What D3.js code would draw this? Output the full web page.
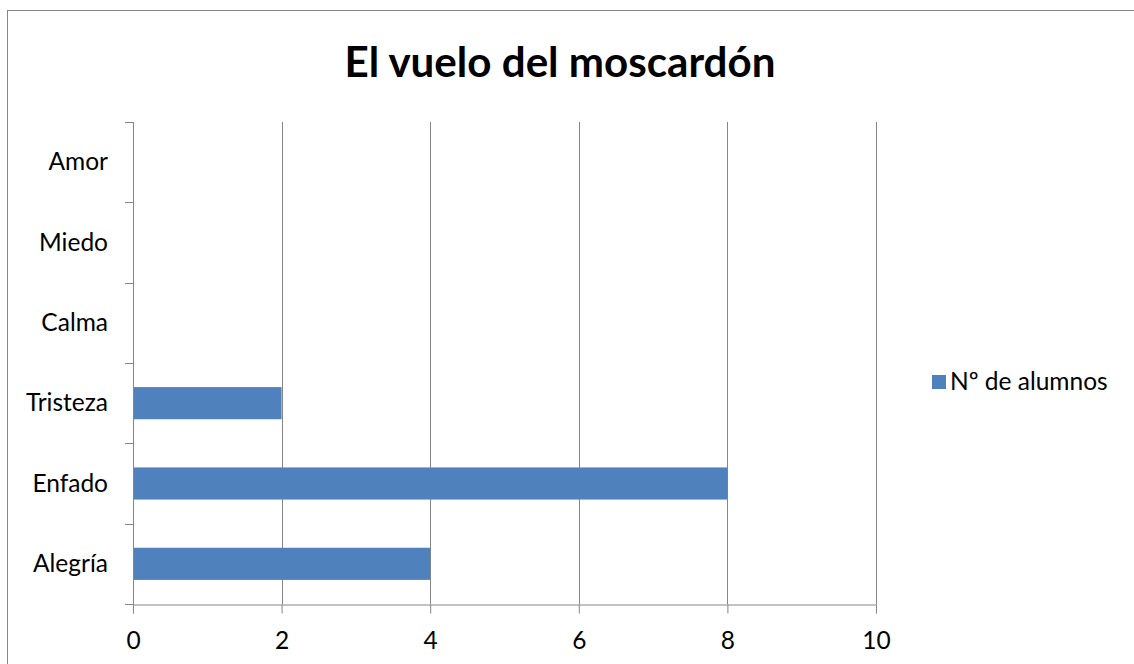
<!DOCTYPE html>
<html>
<head>
<meta charset="utf-8">
<script src="https://cdn.jsdelivr.net/npm/d3@7"></script>
<style>
  body { margin: 0; background: #fff; }
  text { font-family: Lato, "Noto Sans", sans-serif; fill: #000; }
</style>
</head>
<body>
<div id="chart"></div>
<script>
const categories = ["Alegría", "Enfado", "Tristeza", "Calma", "Miedo", "Amor"];
const values = [4, 8, 2, 0, 0, 0];
const xTicks = [0, 2, 4, 6, 8, 10];
const seriesName = "Nº de alumnos";
const title = "El vuelo del moscardón";

const W = 1134, H = 664;
const plot = { left: 133, right: 876, top: 122, bottom: 604 };
const gridColor = "#868686";
const barColor = "#4F81BD";
const labelSize = "24.5px";

const svg = d3.select("#chart").append("svg")
  .attr("width", W)
  .attr("height", H);

// chart frame
svg.append("rect")
  .attr("x", 7.5).attr("y", 10.5)
  .attr("width", W + 20).attr("height", H + 20)
  .attr("fill", "none")
  .attr("stroke", gridColor);

const x = d3.scaleLinear()
  .domain([0, 10])
  .range([plot.left, plot.right]);

const y = d3.scaleBand()
  .domain(categories)
  .range([plot.bottom, plot.top])
  .paddingInner(0.6)
  .paddingOuter(0.3);

// vertical grid
svg.append("g")
  .selectAll("line")
  .data(xTicks.slice(1))
  .join("line")
  .attr("x1", d => Math.round(x(d)) + 0.5)
  .attr("x2", d => Math.round(x(d)) + 0.5)
  .attr("y1", plot.top)
  .attr("y2", plot.bottom)
  .attr("stroke", gridColor);

// bars
const data = categories.map((c, i) => ({ cat: c, val: values[i] }));
svg.append("g")
  .selectAll("rect")
  .data(data.filter(d => d.val > 0))
  .join("rect")
  .attr("x", x(0))
  .attr("y", d => y(d.cat))
  .attr("width", d => x(d.val) - x(0))
  .attr("height", y.bandwidth())
  .attr("fill", barColor);

// x axis
const xAxis = svg.append("g")
  .attr("transform", `translate(0,${plot.bottom + 0.5})`)
  .call(d3.axisBottom(x).tickValues(xTicks).tickSize(9).tickPadding(18));
xAxis.select(".domain").attr("stroke", gridColor);
xAxis.selectAll(".tick line").attr("stroke", gridColor);
xAxis.selectAll(".tick text").style("font-size", labelSize);

// y axis (ticks at category boundaries)
const bounds = d3.range(categories.length + 1).map(i => plot.bottom - i * (plot.bottom - plot.top) / categories.length);
const yg = svg.append("g");
yg.append("line")
  .attr("x1", plot.left + 0.5).attr("x2", plot.left + 0.5)
  .attr("y1", plot.top).attr("y2", plot.bottom + 9)
  .attr("stroke", gridColor);
yg.selectAll("line.tk")
  .data(bounds)
  .join("line")
  .attr("class", "tk")
  .attr("x1", plot.left - 8).attr("x2", plot.left)
  .attr("y1", d => Math.round(d) + 0.5)
  .attr("y2", d => Math.round(d) + 0.5)
  .attr("stroke", gridColor);
yg.selectAll("text")
  .data(categories)
  .join("text")
  .attr("x", 108)
  .attr("y", d => y(d) + y.bandwidth() / 2)
  .attr("dy", "0.34em")
  .attr("text-anchor", "end")
  .style("font-size", labelSize)
  .text(d => d);

// title
const t = svg.append("text")
  .attr("x", 560)
  .attr("y", 77)
  .attr("text-anchor", "middle")
  .style("font-size", "42px")
  .style("font-weight", "bold")
  .text(title);
const tw = t.node().getComputedTextLength();
t.style("font-size", (42 * 431 / tw) + "px");

// legend
svg.append("rect")
  .attr("x", 932).attr("y", 375)
  .attr("width", 14).attr("height", 14)
  .attr("fill", barColor);
svg.append("text")
  .attr("x", 950)
  .attr("y", 390)
  .style("font-size", labelSize)
  .text(seriesName);
</script>
</body>
</html>
